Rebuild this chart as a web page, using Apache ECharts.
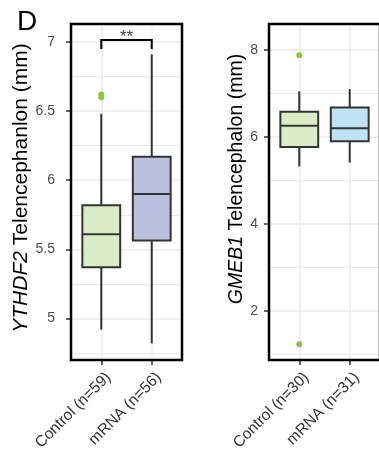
<!DOCTYPE html>
<html>
<head>
<meta charset="utf-8">
<script src="https://cdn.jsdelivr.net/npm/echarts@6/dist/echarts.min.js"></script>
<style>
  html, body { margin: 0; padding: 0; background: #fff; }
  #chart { width: 379px; height: 450px; }
</style>
</head>
<body>
<div id="chart"></div>
<script>
// category labels (positions 1 and 2 on each x axis)
const ythdf2Labels = ['Control (n=59)', 'mRNA (n=56)']
const gmeb1Labels = ['Control (n=30)', 'mRNA (n=31)']

// box stats: [low whisker, Q1, median, Q3, high whisker]
const ythdf2Boxes = [
  [4.92, 5.37, 5.61, 5.82, 6.48],
  [4.82, 5.565, 5.90, 6.17, 6.91],
]
const ythdf2Outliers = [[1, 6.60], [1, 6.62]]

const gmeb1Boxes = [
  [5.32, 5.77, 6.26, 6.58, 7.05],
  [5.41, 5.90, 6.20, 6.68, 7.10],
]
const gmeb1Outliers = [[1, 7.88], [1, 1.23]]

// axis ticks
const ythdf2Ticks = [5, 5.5, 6, 6.5, 7]
const ythdf2Minor = [4.75, 5.25, 5.75, 6.25, 6.75]
const gmeb1Ticks = [2, 4, 6, 8]
const gmeb1Minor = [1, 3, 5, 7]

// significance bracket: [x1, x2, top, foot]
const sigBracket = [1, 2, 7.015, 6.95]
const sigLabel = '**'

const FONT = 'Liberation Sans, Arial, Helvetica, sans-serif'
const GRID_LINE = '#ebebeb'
const INK = '#333333'
const OUTLIER = '#8cc63e'

const chart = echarts.init(document.getElementById('chart'), null, { renderer: 'canvas' })

const boxRenderer = (fills) => (params, api) => {
  const x = api.value(0)
  const lo = api.value(1), q1 = api.value(2), med = api.value(3), q3 = api.value(4), hi = api.value(5)
  const half = 0.375
  const pLo = api.coord([x, lo])
  const pQ1 = api.coord([x, q1])
  const pQ3 = api.coord([x, q3])
  const pHi = api.coord([x, hi])
  const left = api.coord([x - half, med])[0]
  const right = api.coord([x + half, med])[0]
  const yMed = api.coord([x, med])[1]
  const line = { stroke: INK, lineWidth: 2 }
  return {
    type: 'group',
    children: [
      { type: 'line', shape: { x1: pLo[0], y1: pLo[1], x2: pQ1[0], y2: pQ1[1] }, style: line },
      { type: 'line', shape: { x1: pQ3[0], y1: pQ3[1], x2: pHi[0], y2: pHi[1] }, style: line },
      {
        type: 'rect',
        shape: { x: left, y: pQ3[1], width: right - left, height: pQ1[1] - pQ3[1] },
        style: { fill: fills[params.dataIndex], stroke: INK, lineWidth: 2 },
      },
      { type: 'line', shape: { x1: left, y1: yMed, x2: right, y2: yMed }, style: line },
    ],
  }
}

const bracketRenderer = (params, api) => {
  const a = api.coord([api.value(0), api.value(2)])
  const b = api.coord([api.value(1), api.value(2)])
  const fa = api.coord([api.value(0), api.value(3)])
  const fb = api.coord([api.value(1), api.value(3)])
  return {
    type: 'group',
    children: [
      {
        type: 'polyline',
        shape: { points: [fa, a, b, fb] },
        style: { stroke: '#000', lineWidth: 2, fill: null },
      },
      {
        type: 'text',
        x: (a[0] + b[0]) / 2,
        y: a[1] - 11,
        style: {
          text: sigLabel,
          fill: '#444',
          font: '17px ' + FONT,
          align: 'center',
          verticalAlign: 'top',
        },
      },
    ],
  }
}

const xAxisFor = (gridIndex, labels) => ({
  type: 'value',
  gridIndex,
  min: 0.4,
  max: 2.6,
  axisLine: { show: false },
  axisTick: { customValues: [1, 2], length: 5, lineStyle: { color: INK, width: 1.5 } },
  axisLabel: {
    customValues: [1, 2],
    formatter: (v) => labels[Math.round(v) - 1],
    rotate: 45,
    margin: 8,
    verticalAlign: 'top',
    lineHeight: 20,
    color: INK,
    fontSize: 15.5,
    fontFamily: FONT,
  },
  splitLine: { show: true, lineStyle: { color: GRID_LINE, width: 1.5 } },
})

const yAxisFor = (gridIndex, min, max, ticks, name, nameGap, fontSize, labelMargin, pad) => ({
  type: 'value',
  gridIndex,
  min,
  max,
  name,
  nameLocation: 'middle',
  nameGap,
  nameRotate: 90,
  nameTextStyle: {
    color: '#000',
    fontSize,
    fontFamily: FONT,
    padding: [0, 0, 0, pad],
    rich: { i: { fontStyle: 'italic', fontSize, fontFamily: FONT, color: '#000' } },
  },
  axisLine: { show: false },
  axisTick: { customValues: ticks, length: 5, lineStyle: { color: INK, width: 1.5 } },
  axisLabel: { customValues: ticks, margin: labelMargin, color: '#4d4d4d', fontSize: 14, fontFamily: FONT },
  splitLine: { show: true, lineStyle: { color: GRID_LINE, width: 1.5 } },
})

const minorAxisFor = (gridIndex, min, max, minors) => ({
  type: 'value',
  gridIndex,
  min,
  max,
  position: 'left',
  axisLine: { show: false },
  axisTick: { show: false, customValues: minors },
  axisLabel: { show: false },
  splitLine: { show: true, lineStyle: { color: GRID_LINE, width: 1 } },
})

const gridFor = (left) => ({
  left,
  width: 111,
  top: 24,
  height: 336,
  show: true,
  borderColor: '#000',
  borderWidth: 2.5,
  containLabel: false,
  outerBoundsMode: 'none',
  z: 5,
})

const option = {
  animation: false,
  backgroundColor: '#fff',
  title: {
    text: 'D',
    left: 12,
    top: 3,
    textStyle: { fontSize: 28, fontWeight: 'normal', color: '#000', fontFamily: FONT },
  },
  grid: [gridFor(71), gridFor(269)],
  xAxis: [xAxisFor(0, ythdf2Labels), xAxisFor(1, gmeb1Labels)],
  yAxis: [
    yAxisFor(0, 4.7, 7.13, ythdf2Ticks, '{i|YTHDF2} Telencephanlon (mm)', 34, 21, 16, 8),
    minorAxisFor(0, 4.7, 7.13, ythdf2Minor),
    yAxisFor(1, 0.865, 8.6, gmeb1Ticks, '{i|GMEB1} Telencephalon (mm)', 21, 19.5, 11, 26),
    minorAxisFor(1, 0.865, 8.6, gmeb1Minor),
  ],
  series: [
    {
      type: 'custom',
      xAxisIndex: 0,
      yAxisIndex: 0,
      renderItem: boxRenderer(['#dbebc6', '#bbc0de']),
      data: ythdf2Boxes.map((b, i) => [i + 1, ...b]),
      encode: { x: 0, y: [1, 5] },
      z: 3,
    },
    {
      type: 'scatter',
      xAxisIndex: 0,
      yAxisIndex: 0,
      data: ythdf2Outliers,
      symbolSize: 6,
      itemStyle: { color: OUTLIER, opacity: 1 },
      z: 4,
    },
    {
      type: 'custom',
      xAxisIndex: 0,
      yAxisIndex: 0,
      renderItem: bracketRenderer,
      data: [sigBracket],
      encode: { x: [0, 1], y: [2, 3] },
      z: 4,
    },
    {
      type: 'custom',
      xAxisIndex: 1,
      yAxisIndex: 2,
      renderItem: boxRenderer(['#dbebc6', '#bee3f4']),
      data: gmeb1Boxes.map((b, i) => [i + 1, ...b]),
      encode: { x: 0, y: [1, 5] },
      z: 3,
    },
    {
      type: 'scatter',
      xAxisIndex: 1,
      yAxisIndex: 2,
      data: gmeb1Outliers,
      symbolSize: 6,
      itemStyle: { color: OUTLIER, opacity: 1 },
      z: 4,
    },
  ],
}

chart.setOption(option)
window.addEventListener('resize', () => chart.resize())
</script>
</body>
</html>
